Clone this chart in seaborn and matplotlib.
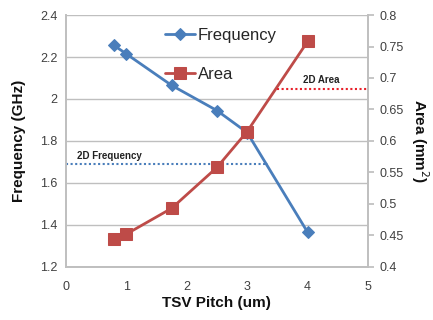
import numpy as np
import pandas as pd
import matplotlib
matplotlib.use("Agg")
import matplotlib.pyplot as plt
import seaborn as sns

sns.set_theme(style="white")
plt.rcParams["font.family"] = ["Liberation Sans", "DejaVu Sans"]

# ── data ────────────────────────────────────────────────────────────────────
pitch = [0.8, 1.0, 1.75, 2.5, 3.0, 4.0]
frequency = [2.255, 2.215, 2.065, 1.945, 1.84, 1.365]
area = [0.445, 0.452, 0.493, 0.558, 0.615, 0.758]
freq_2d = 1.69
area_2d = 0.682

df = pd.DataFrame({"pitch": pitch, "frequency": frequency, "area": area})

blue = "#4A7EBB"
red = "#BE4B48"
grid_c = "#BFBFBF"
text_c = "#404040"

fig = plt.figure(figsize=(4.33, 3.2), dpi=100)
ax = fig.add_axes([0.152, 0.166, 0.698, 0.787])
ax2 = ax.twinx()

# ── frequency (left axis) ───────────────────────────────────────────────────
sns.lineplot(data=df, x="pitch", y="frequency", ax=ax, color=blue, lw=2,
             marker="D", markersize=6, markeredgecolor=blue, label="Frequency",
             legend=False)
ax.plot([0, 3.35], [freq_2d, freq_2d], ls=(0, (1, 1.2)), color=blue, lw=1.5)
ax.text(0.18, freq_2d + 0.025, "2D Frequency", fontsize=7, fontweight="bold",
        color="#222222")

# ── area (right axis) ───────────────────────────────────────────────────────
sns.lineplot(data=df, x="pitch", y="area", ax=ax2, color=red, lw=2,
             marker="s", markersize=8, markeredgecolor=red, label="Area",
             legend=False)
ax2.plot([3.5, 5], [area_2d, area_2d], ls=(0, (1, 1.2)), color="#E8202A", lw=1.5)
ax2.text(3.93, area_2d + 0.01, "2D Area", fontsize=7, fontweight="bold",
         color="#222222")

# ── axes styling ────────────────────────────────────────────────────────────
ax.set_xlim(0, 5)
ax.set_ylim(1.2, 2.4)
ax.set_xticks(range(0, 6))
ax.set_yticks(np.arange(1.2, 2.41, 0.2))
ax.set_yticklabels(["1.2", "1.4", "1.6", "1.8", "2", "2.2", "2.4"])
ax2.set_ylim(0.4, 0.8)
ax2.set_yticks(np.arange(0.4, 0.81, 0.05))
ax2.set_yticklabels(["0.4", "0.45", "0.5", "0.55", "0.6", "0.65", "0.7", "0.75", "0.8"])

ax.yaxis.grid(True, color=grid_c, lw=1)
ax.set_axisbelow(True)
for a in (ax, ax2):
    for s in a.spines.values():
        s.set_color(grid_c)
    a.spines["top"].set_visible(False)
ax.tick_params(axis="y", length=0, labelsize=9, colors=text_c, pad=6)
ax.tick_params(axis="x", length=0, labelsize=9, colors=text_c, pad=10)
ax2.tick_params(axis="y", length=4, color=grid_c, labelsize=9, colors=text_c, pad=4)

ax.set_xlabel("TSV Pitch (um)", fontsize=11, fontweight="bold", color="#111111",
              labelpad=2)
ax.set_ylabel("Frequency (GHz)", fontsize=11, fontweight="bold", color="#111111",
              labelpad=10)
ax2.set_ylabel("Area (mm$^2$)", fontsize=11, fontweight="bold", color="#111111",
               rotation=270, labelpad=20)

h1, l1 = ax.get_legend_handles_labels()
h2, l2 = ax2.get_legend_handles_labels()
ax2.legend(h1 + h2, l1 + l2, loc="upper left", bbox_to_anchor=(0.28, 1.01),
           frameon=False, fontsize=12, handlelength=1.8, labelspacing=1.45,
           handletextpad=0.15)

fig.savefig("out.png", dpi=100)
